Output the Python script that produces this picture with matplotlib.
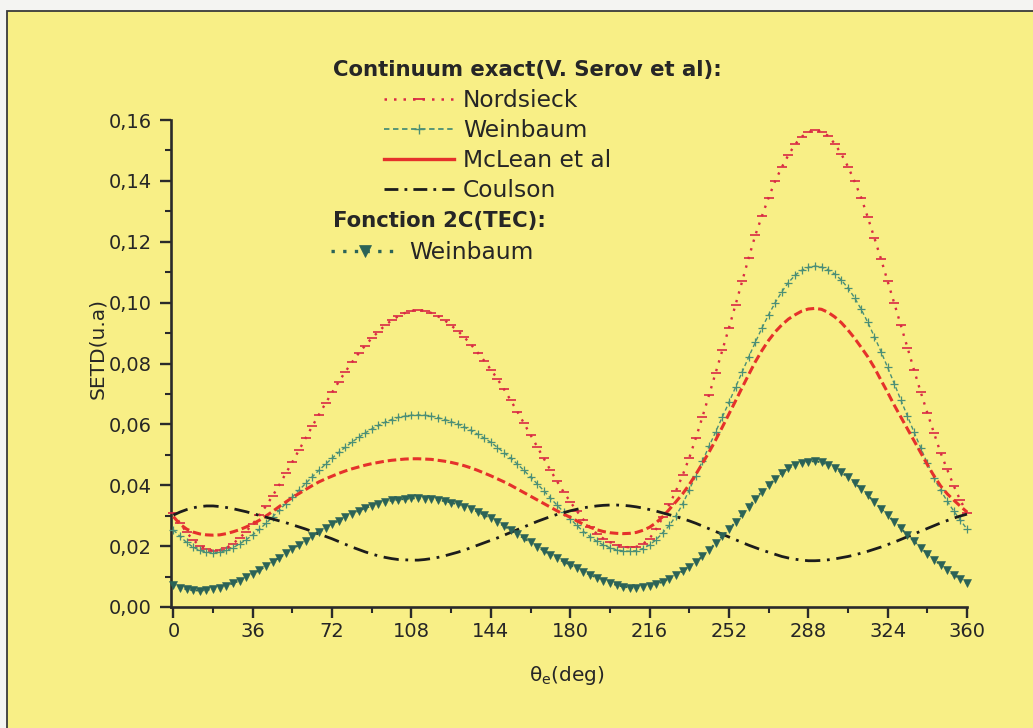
import numpy as np
import matplotlib
matplotlib.use("Agg")
import matplotlib.pyplot as plt
from matplotlib.lines import Line2D
from matplotlib.patches import Rectangle
from matplotlib.ticker import MultipleLocator, FuncFormatter

# ---------------- data ----------------
theta = np.arange(0, 361, 3)  # emission angle grid, degrees

nordsieck = [
    .0310, .0275, .0245, .0220, .0202, .0190, .0185, .0186, .0194, .0208,
    .0226, .0248, .0273, .0301, .0332, .0365, .0401, .0439, .0477, .0516,
    .0555, .0594, .0632, .0669, .0705, .0740, .0773, .0804, .0833, .0859,
    .0883, .0905, .0925, .0942, .0955, .0966, .0973, .0976, .0973, .0966,
    .0955, .0942, .0925, .0907, .0886, .0862, .0836, .0809, .0780, .0749,
    .0715, .0679, .0642, .0604, .0565, .0527, .0488, .0450, .0413, .0378,
    .0346, .0315, .0287, .0262, .0241, .0225, .0213, .0204, .0198, .0196,
    .0198, .0207, .0225, .0256, .0295, .0337, .0382, .0433, .0490, .0555,
    .0625, .0697, .0770, .0843, .0917, .0993, .1070, .1148, .1222, .1285,
    .1345, .1400, .1445, .1485, .1520, .1545, .1560, .1567, .1562, .1548,
    .1522, .1488, .1447, .1398, .1345, .1280, .1212, .1143, .1070, .0998,
    .0925, .0852, .0778, .0706, .0638, .0572, .0507, .0452, .0398, .0350,
    .0310]

weinbaum = [
    .0253, .0232, .0212, .0196, .0186, .0180, .0178, .0180, .0186, .0195,
    .0207, .0221, .0237, .0255, .0275, .0296, .0318, .0340, .0362, .0384,
    .0406, .0428, .0449, .0469, .0489, .0508, .0525, .0542, .0557, .0572,
    .0585, .0597, .0607, .0616, .0623, .0627, .0630, .0631, .0630, .0627,
    .0622, .0616, .0609, .0601, .0591, .0580, .0568, .0555, .0541, .0524,
    .0507, .0489, .0470, .0449, .0427, .0405, .0382, .0358, .0335, .0312,
    .0290, .0268, .0248, .0231, .0216, .0204, .0195, .0188, .0184, .0183,
    .0185, .0192, .0204, .0221, .0244, .0268, .0300, .0338, .0385, .0432,
    .0480, .0528, .0576, .0624, .0672, .0722, .0772, .0822, .0870, .0917,
    .0960, .1000, .1036, .1066, .1090, .1106, .1116, .1120, .1117, .1108,
    .1094, .1074, .1048, .1016, .0978, .0935, .0888, .0839, .0787, .0734,
    .0680, .0627, .0574, .0523, .0472, .0424, .0384, .0348, .0315, .0285,
    .0256]

mclean = [
    .0297, .0272, .0256, .0246, .0240, .0237, .0236, .0237, .0241, .0247,
    .0254, .0263, .0273, .0285, .0299, .0314, .0330, .0345, .0360, .0373,
    .0386, .0399, .0411, .0421, .0430, .0439, .0447, .0454, .0460, .0466,
    .0471, .0475, .0479, .0482, .0484, .0486, .0487, .0487, .0486, .0485,
    .0482, .0479, .0475, .0470, .0464, .0457, .0449, .0440, .0431, .0421,
    .0411, .0400, .0388, .0376, .0364, .0352, .0340, .0328, .0316, .0305,
    .0295, .0283, .0272, .0262, .0254, .0248, .0244, .0242, .0241, .0242,
    .0245, .0252, .0262, .0277, .0297, .0321, .0346, .0372, .0402, .0436,
    .0472, .0509, .0549, .0591, .0634, .0677, .0721, .0764, .0806, .0843,
    .0876, .0904, .0927, .0946, .0960, .0972, .0979, .0981, .0978, .0968,
    .0953, .0934, .0910, .0883, .0853, .0822, .0786, .0745, .0705, .0663,
    .0624, .0585, .0546, .0507, .0468, .0431, .0398, .0372, .0351, .0331,
    .0312]

coulson = [
    .0302, .0312, .0320, .0326, .0330, .0332, .0332, .0330, .0327, .0323,
    .0318, .0313, .0307, .0301, .0295, .0289, .0283, .0277, .0270, .0263,
    .0256, .0248, .0240, .0232, .0224, .0215, .0206, .0197, .0189, .0181,
    .0174, .0168, .0163, .0159, .0156, .0155, .0154, .0154, .0156, .0159,
    .0163, .0168, .0174, .0180, .0187, .0195, .0203, .0211, .0219, .0227,
    .0236, .0245, .0254, .0263, .0272, .0281, .0289, .0297, .0304, .0310,
    .0316, .0321, .0326, .0329, .0332, .0334, .0335, .0335, .0334, .0332,
    .0329, .0325, .0320, .0315, .0309, .0303, .0297, .0290, .0283, .0275,
    .0266, .0257, .0248, .0239, .0230, .0221, .0212, .0203, .0195, .0187,
    .0180, .0173, .0166, .0161, .0157, .0154, .0152, .0152, .0153, .0155,
    .0158, .0162, .0166, .0171, .0177, .0183, .0190, .0197, .0205, .0213,
    .0222, .0231, .0240, .0249, .0258, .0267, .0276, .0284, .0292, .0299,
    .0305]

weinbaum_tec = [
    .0072, .0064, .0058, .0055, .0054, .0056, .0059, .0064, .0070, .0078,
    .0087, .0097, .0108, .0121, .0134, .0148, .0162, .0176, .0190, .0204,
    .0218, .0232, .0246, .0259, .0272, .0284, .0295, .0306, .0316, .0325,
    .0333, .0340, .0345, .0350, .0353, .0355, .0357, .0357, .0356, .0354,
    .0351, .0348, .0343, .0337, .0330, .0322, .0313, .0302, .0291, .0279,
    .0266, .0253, .0239, .0226, .0212, .0198, .0185, .0172, .0160, .0149,
    .0138, .0127, .0116, .0106, .0096, .0087, .0079, .0072, .0067, .0064,
    .0063, .0065, .0069, .0075, .0083, .0093, .0105, .0118, .0133, .0149,
    .0167, .0188, .0210, .0232, .0255, .0279, .0304, .0330, .0356, .0379,
    .0400, .0422, .0441, .0456, .0467, .0474, .0478, .0479, .0475, .0466,
    .0456, .0442, .0426, .0408, .0388, .0367, .0345, .0323, .0302, .0280,
    .0258, .0237, .0216, .0195, .0175, .0156, .0138, .0122, .0106, .0092,
    .0078]

x_ticks = [0, 36, 72, 108, 144, 180, 216, 252, 288, 324, 360]
header_1 = "Continuum exact(V. Serov et al):"
header_2 = "Fonction 2C(TEC):"
labels_1 = ["Nordsieck", "Weinbaum", "McLean et al", "Coulson"]
label_2 = "Weinbaum"

# ---------------- styles ----------------
RED_N = "#d92a44"
RED_M = "#e5312b"
TEAL = "#4b8f76"
DTEAL = "#2b6357"
BLACK = "#1c1c1c"
BG = "#f8ef86"

plt.rcParams["font.family"] = ["DejaVu Sans"]

W, H = 1033, 728
fig = plt.figure(figsize=(W / 100, H / 100), dpi=100)
fig.patch.set_facecolor("#f4f4f2")
fig.add_artist(Rectangle((7 / W, -0.05), 1.2, 1 - 11 / H + 0.05,
                         transform=fig.transFigure, facecolor=BG,
                         edgecolor="#3a3a3a", linewidth=1.3, zorder=-10))

ax = fig.add_axes([171 / W, 1 - 607 / H, (967 - 171) / W, (607 - 120) / H])
ax.set_facecolor("none")
ax.set_zorder(2)

ax.plot(theta, nordsieck, color=RED_N, linestyle=(0, (1, 2.8)), linewidth=1.7,
        marker="_", markersize=7, markeredgewidth=1.2, clip_on=False, zorder=3)
ax.plot(theta, weinbaum, color=TEAL, linestyle=(0, (3, 2)), linewidth=1.0,
        marker="+", markersize=5.5, markeredgewidth=0.9, clip_on=False, zorder=3)
ax.plot(theta, mclean, color=RED_M, linestyle=(0, (2.8, 1.3)), linewidth=2.2,
        clip_on=False, zorder=4)
ax.plot(theta, coulson, color=BLACK, linestyle=(0, (5.5, 2.4, 1, 2.4)), linewidth=2.0,
        clip_on=False, zorder=4)
ax.plot(theta, weinbaum_tec, color=DTEAL, linestyle=(0, (1, 2)), linewidth=1.4,
        marker="v", markersize=6.3, markeredgewidth=0.4, clip_on=False, zorder=5)

ax.set_xlim(-1.1, 360)
ax.set_ylim(0, 0.16)
ax.set_xticks(x_ticks)
ax.xaxis.set_minor_locator(MultipleLocator(18))
ax.yaxis.set_major_locator(MultipleLocator(0.02))
ax.yaxis.set_minor_locator(MultipleLocator(0.01))
ax.yaxis.set_major_formatter(FuncFormatter(lambda v, p: f"{v:.2f}".replace(".", ",")))

for s in ["top", "right"]:
    ax.spines[s].set_visible(False)
for s in ["left", "bottom"]:
    ax.spines[s].set_linewidth(1.9)
    ax.spines[s].set_color("#2a2a2a")

ax.tick_params(which="major", direction="out", length=8, width=1.7, color="#2a2a2a",
               labelsize=14, labelcolor="#262626")
ax.tick_params(axis="x", which="major", pad=3)
ax.tick_params(axis="y", which="major", pad=6)
ax.tick_params(which="minor", direction="out", length=4.5, width=1.5, color="#2a2a2a")

ax.set_ylabel("SETD(u.a)", fontsize=14.5, color="#262626")
ax.yaxis.set_label_coords(-0.08, 0.53)
ax.set_xlabel("θ$_\\mathrm{e}$(deg)", fontsize=14.5, color="#262626")
ax.xaxis.set_label_coords(0.497, -0.118)

# ---------------- legend ----------------
fig.text(333 / W, 1 - 70 / H, header_1, fontsize=15.3, fontweight="bold",
         color="#262626", va="center", ha="left")
fig.text(333 / W, 1 - 221 / H, header_2, fontsize=15.3, fontweight="bold",
         color="#262626", va="center", ha="left")

h1 = [
    Line2D([], [], color=RED_N, linestyle=(0, (1, 2.8)), linewidth=1.8,
           marker="_", markersize=9, markeredgewidth=1.3),
    Line2D([], [], color=TEAL, linestyle=(0, (3, 2)), linewidth=1.3,
           marker="+", markersize=7, markeredgewidth=1.0),
    Line2D([], [], color=RED_M, linestyle="-", linewidth=2.4),
    Line2D([], [], color=BLACK, linestyle=(0, (5, 2.2, 1, 2.2)), linewidth=2.0),
]
leg1 = fig.legend(h1, labels_1, loc="upper left", bbox_to_anchor=(384 / W, 1 - 89 / H),
                  frameon=False, fontsize=16.8, handlelength=3.0, handletextpad=0.38,
                  labelspacing=0.3, borderpad=0, borderaxespad=0, numpoints=1)
for t in leg1.get_texts():
    t.set_color("#262626")

h2 = [Line2D([], [], color=DTEAL, linestyle=(0, (1, 2.5)), linewidth=2.4,
             marker="v", markersize=8, markeredgewidth=0.5)]
leg2 = fig.legend(h2, [label_2], loc="upper left", bbox_to_anchor=(331 / W, 1 - 241 / H),
                  frameon=False, fontsize=16.8, handlelength=2.9, handletextpad=0.45,
                  borderpad=0, borderaxespad=0, numpoints=1)
for t in leg2.get_texts():
    t.set_color("#262626")

fig.savefig("out.png", dpi=100, facecolor=fig.get_facecolor())
